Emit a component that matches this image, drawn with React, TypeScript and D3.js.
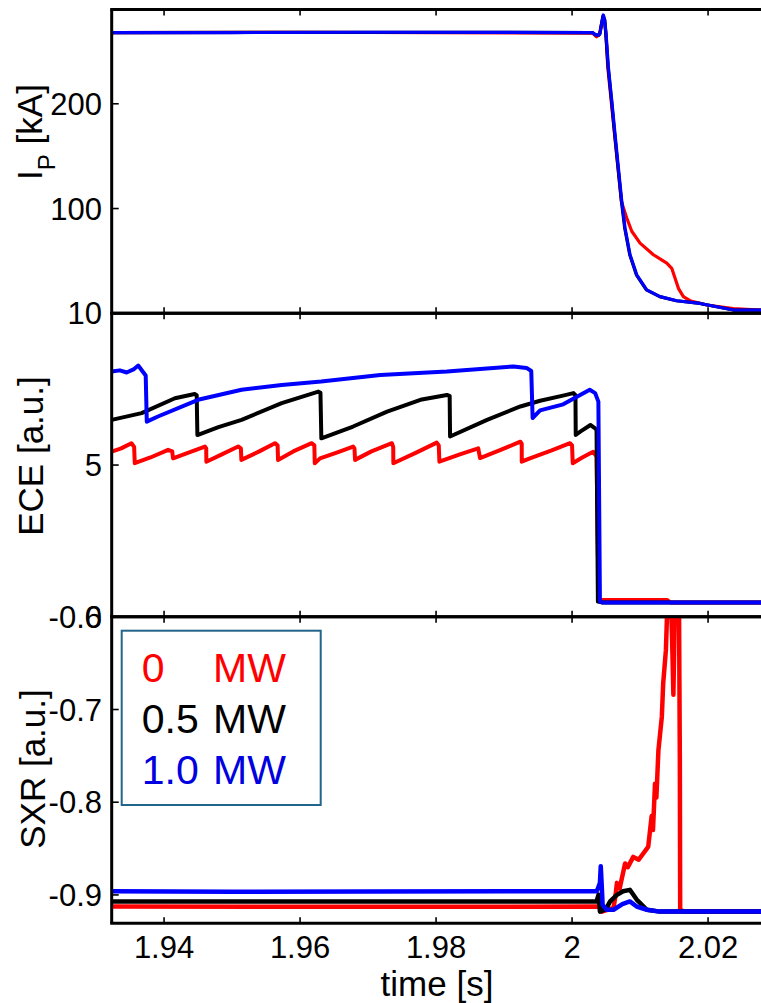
import React from "react";
import * as d3 from "d3";

type Pt = [number, number];

// ---------- axes / ticks ----------
const xTicks = [1.94, 1.96, 1.98, 2, 2.02];
const xTickLabels = ["1.94", "1.96", "1.98", "2", "2.02"];
const ipTicks = [100, 200];
const ipTickLabels = ["100", "200"];
const eceTicks = [0, 5, 10];
const eceTickLabels = ["0", "5", "10"];
const sxrTicks = [-0.9, -0.8, -0.7, -0.6];
const sxrTickLabels = ["-0.9", "-0.8", "-0.7", "-0.6"];

const xDomain: Pt = [1.9323, 2.03];
const ipDomain: Pt = [0, 290];
const eceDomain: Pt = [0, 10];
const sxrDomain: Pt = [-0.9306, -0.6];

const legendNumbers = ["0", "0.5", "1.0"];
const legendUnit = "MW";
const seriesColors = ["#ff0000", "#000000", "#0000ff"];
const legendColors = ["#ff0000", "#000000", "#0000e0"];

// ---------- I_P [kA] ----------
const ipRed: Pt[] = [
  [1.9323, 268], [1.96, 268.3], [1.98, 267.8], [2.003, 267.5], [2.0036, 264], [2.004, 266],
  [2.0044, 278], [2.0046, 283], [2.0048, 278], [2.005, 266], [2.00525, 235], [2.00575, 203],
  [2.00625, 171], [2.00675, 139], [2.00725, 107], [2.00755, 100.7], [2.00804, 91],
  [2.00878, 78.3], [2.01, 67], [2.01196, 55.9], [2.01393, 47.8], [2.01466, 43],
  [2.01515, 33.4], [2.01564, 23.8], [2.01637, 15.9], [2.01735, 12], [2.01981, 7.9],
  [2.02372, 4.6], [2.0276, 3.1], [2.03, 3],
];
const ipBlack: Pt[] = [
  [1.9323, 268], [1.97, 268.2], [2.003, 268], [2.0034, 266], [2.0039, 265.6], [2.0041, 267],
  [2.0044, 279], [2.00455, 284], [2.0048, 280], [2.00495, 267], [2.0053, 235], [2.0058, 203],
  [2.00627, 171], [2.00676, 139], [2.00726, 107], [2.00774, 81.5], [2.00848, 55.9],
  [2.00946, 36.7], [2.01093, 22.3], [2.01289, 15.9], [2.01534, 12], [2.01882, 9.4],
  [2.02128, 6.2], [2.02372, 3.1], [2.03, 3.1],
];
const ipBlue: Pt[] = [
  [1.9323, 268], [1.95, 268], [1.97, 268.3], [2.003, 268], [2.0034, 266], [2.0039, 265.6],
  [2.0041, 267], [2.0044, 278], [2.0046, 284.8], [2.0048, 280], [2.005, 267], [2.00534, 235],
  [2.00584, 203], [2.00632, 171], [2.00681, 139], [2.00731, 107], [2.00779, 81.5],
  [2.00853, 55.9], [2.00951, 36.7], [2.01098, 22.3], [2.01294, 15.9], [2.01539, 12],
  [2.01882, 9.4], [2.02128, 6.2], [2.02372, 3.1], [2.03, 3.1],
];

// ---------- ECE [a.u.] ----------
const eceRed: Pt[] = [
  [1.9323, 5.44], [1.9337, 5.55], [1.9352, 5.72], [1.9356, 5.6], [1.93569, 5.06],
  [1.938, 5.25], [1.9406, 5.5], [1.9412, 5.45], [1.94132, 5.22],
  [1.9435, 5.4], [1.946, 5.61], [1.9462, 5.55], [1.94622, 5.11],
  [1.9485, 5.35], [1.9509, 5.61], [1.9513, 5.55], [1.95137, 5.17],
  [1.954, 5.45], [1.9563, 5.72], [1.9567, 5.65], [1.95676, 5.17],
  [1.959, 5.45], [1.9617, 5.72], [1.9621, 5.65], [1.96216, 5.06],
  [1.96294, 5.22], [1.9655, 5.42], [1.9678, 5.61], [1.968, 5.55], [1.96809, 5.17],
  [1.9705, 5.45], [1.9735, 5.72], [1.9737, 5.6], [1.97372, 5.06],
  [1.977, 5.4], [1.9801, 5.74], [1.9804, 5.65], [1.98049, 5.11],
  [1.9835, 5.35], [1.9862, 5.55], [1.98647, 5.23], [1.9895, 5.5], [1.9924, 5.77],
  [1.9926, 5.7], [1.9926, 5.11], [1.9938, 5.22], [1.997, 5.48], [1.9997, 5.72],
  [2.0, 5.65], [2.0001, 5.06], [2.0015, 5.25], [2.0031, 5.44], [2.0036, 5.28],
  [2.0039, 0.55], [2.0045, 0.55], [2.014, 0.55], [2.0145, 0.47], [2.03, 0.47],
];
const eceBlack: Pt[] = [
  [1.9323, 6.49], [1.9367, 6.71], [1.9416, 7.2], [1.9445, 7.34], [1.9448, 7.3], [1.9449, 5.99],
  [1.948, 6.25], [1.9514, 6.49], [1.9573, 7.04], [1.9627, 7.42], [1.963, 7.38], [1.96313, 5.88],
  [1.9678, 6.27], [1.9728, 6.76], [1.9777, 7.15], [1.9816, 7.31], [1.982, 7.28], [1.98206, 5.94],
  [1.9875, 6.49], [1.9924, 6.93], [1.9953, 7.12], [1.9985, 7.28], [2.0002, 7.37],
  [2.0005, 7.3], [2.00054, 5.99], [2.0012, 6.1], [2.0027, 6.32], [2.0034, 6.21],
  [2.0036, 6.15], [2.0038, 0.5], [2.0045, 0.47], [2.03, 0.47],
];
const eceBlue: Pt[] = [
  [1.9323, 8.08], [1.9335, 8.12], [1.9345, 8.05], [1.9355, 8.15], [1.9362, 8.28],
  [1.9368, 8.1], [1.9373, 7.95], [1.93746, 6.43], [1.9391, 6.6], [1.945, 7.15],
  [1.9514, 7.48], [1.9573, 7.64], [1.9631, 7.75], [1.9718, 7.97], [1.9816, 8.08],
  [1.9914, 8.25], [1.9933, 8.2], [1.994, 8.1], [1.9942, 6.55], [1.9953, 6.8],
  [1.9987, 7.0], [2.0026, 7.48], [2.0034, 7.37], [2.00387, 7.09], [2.0041, 0.5],
  [2.0045, 0.47], [2.03, 0.47],
];

// ---------- SXR [a.u.] ----------
const sxrRed: Pt[] = [
  [1.9323, -0.9125], [1.97, -0.9128], [2.0041, -0.9125], [2.0044, -0.918], [2.0061, -0.914],
  [2.0064, -0.9], [2.0066, -0.887], [2.007, -0.893], [2.0078, -0.866], [2.0082, -0.87],
  [2.009, -0.859], [2.0098, -0.862], [2.0105, -0.855], [2.011, -0.85], [2.0112, -0.848],
  [2.0117, -0.815], [2.0119, -0.83], [2.0122, -0.78], [2.0124, -0.795], [2.0127, -0.744],
  [2.0132, -0.708], [2.0134, -0.672], [2.0138, -0.636], [2.014, -0.59], [2.0144, -0.55],
  [2.0147, -0.62], [2.0149, -0.684], [2.0151, -0.6], [2.0154, -0.5], [2.0157, -0.55],
  [2.01585, -0.754], [2.0159, -0.916], [2.0165, -0.918], [2.03, -0.918],
];
const sxrBlack: Pt[] = [
  [1.9323, -0.907], [1.97, -0.9072], [2.0036, -0.907], [2.0039, -0.8996], [2.0041, -0.918],
  [2.005, -0.915], [2.0056, -0.907], [2.0066, -0.9], [2.0075, -0.896], [2.0085, -0.8945],
  [2.0095, -0.905], [2.011, -0.916], [2.0129, -0.918], [2.03, -0.918],
];
const sxrBlue: Pt[] = [
  [1.9323, -0.896], [1.95, -0.8965], [1.97, -0.8962], [2.0036, -0.896], [2.0038, -0.893],
  [2.0041, -0.887], [2.00422, -0.869], [2.0044, -0.895], [2.00449, -0.9107], [2.0051, -0.916],
  [2.0061, -0.916], [2.0074, -0.91], [2.0085, -0.907], [2.0095, -0.9125], [2.011, -0.916],
  [2.0129, -0.918], [2.03, -0.918],
];

// ---------- layout ----------
const W = 761;
const H = 1003;
const LEFT = 111.7;
const XRIGHT = LEFT + (xDomain[1] - xDomain[0]) * 6800;
const FONT = "'Liberation Sans', Arial, Helvetica, sans-serif";

const panels = [
  { top: 9.5, bottom: 313.3, domain: ipDomain, ticks: ipTicks, labels: ipTickLabels, series: [ipRed, ipBlack, ipBlue], width: 3.2 },
  { top: 313.3, bottom: 616.8, domain: eceDomain, ticks: eceTicks, labels: eceTickLabels, series: [eceRed, eceBlack, eceBlue], width: 4 },
  { top: 616.8, bottom: 923.3, domain: sxrDomain, ticks: sxrTicks, labels: sxrTickLabels, series: [sxrRed, sxrBlack, sxrBlue], width: 4.5 },
];

export default function App() {
  const x = d3.scaleLinear().domain(xDomain).range([LEFT, XRIGHT]);
  return (
    <svg width={W} height={H} style={{ position: "absolute", left: 0, top: 0, background: "#fff" }}
      fontFamily={FONT}>
      <rect x={0} y={0} width={W} height={H} fill="#fff" />
      <defs>
        {panels.map((p, i) => (
          <clipPath id={`clip${i}`} key={i}>
            <rect x={LEFT} y={p.top} width={W - LEFT} height={p.bottom - p.top} />
          </clipPath>
        ))}
      </defs>
      {panels.map((p, i) => {
        const y = d3.scaleLinear().domain(p.domain).range([p.bottom, p.top]);
        const line = d3.line<Pt>().x((d) => x(d[0])).y((d) => y(d[1]));
        return (
          <g key={i}>
            <g clipPath={`url(#clip${i})`}>
              {p.series.map((s, k) => (
                <path key={k} d={line(s) || ""} fill="none" stroke={seriesColors[k]}
                  strokeWidth={p.width} strokeLinejoin="round" />
              ))}
            </g>
            {xTicks.map((t, k) => (
              <g key={k}>
                <line x1={x(t)} x2={x(t)} y1={p.top} y2={p.top + 6} stroke="#000" strokeWidth={1.6} />
                <line x1={x(t)} x2={x(t)} y1={p.bottom} y2={p.bottom - 6} stroke="#000" strokeWidth={1.6} />
              </g>
            ))}
            {p.ticks.map((t, k) => (
              <g key={k}>
                <line x1={LEFT} x2={LEFT + 7} y1={y(t)} y2={y(t)} stroke="#000" strokeWidth={1.6} />
                <text x={102} y={y(t) + 11} fontSize={31} textAnchor="end" fill="#000">
                  {p.labels[k]}
                </text>
              </g>
            ))}
            <line x1={LEFT - 1.5} x2={W} y1={p.top} y2={p.top} stroke="#000" strokeWidth={3} />
            <line x1={LEFT - 1.5} x2={W} y1={p.bottom} y2={p.bottom} stroke="#000" strokeWidth={3} />
            <line x1={LEFT} x2={LEFT} y1={p.top} y2={p.bottom} stroke="#000" strokeWidth={3} />
          </g>
        );
      })}

      {xTicks.map((t, k) => (
        <text key={k} x={x(t)} y={958} fontSize={31} textAnchor="middle" fill="#000">
          {xTickLabels[k]}
        </text>
      ))}
      <text x={437} y={996} fontSize={35} textAnchor="middle" fill="#000">time [s]</text>

      <text transform="translate(42,132) rotate(-90)" fontSize={35} textAnchor="middle" fill="#000">
        I<tspan fontSize={24} dy={13}>P</tspan><tspan dy={-13}> [kA]</tspan>
      </text>
      <text transform="translate(43,456) rotate(-90)" fontSize={35} textAnchor="middle" fill="#000">
        ECE [a.u.]
      </text>
      <text transform="translate(45,769) rotate(-90)" fontSize={35} textAnchor="middle" fill="#000">
        SXR [a.u.]
      </text>

      <rect x={121.7} y={630.7} width={199} height={174.3} fill="#fff" stroke="#23648a" strokeWidth={2} />
      {legendNumbers.map((n, k) => (
        <g key={k} fill={legendColors[k]} fontSize={41}>
          <text x={141.7} y={681.7 + k * 51.2}>{n}</text>
          <text x={213} y={681.7 + k * 51.2}>{legendUnit}</text>
        </g>
      ))}
    </svg>
  );
}
